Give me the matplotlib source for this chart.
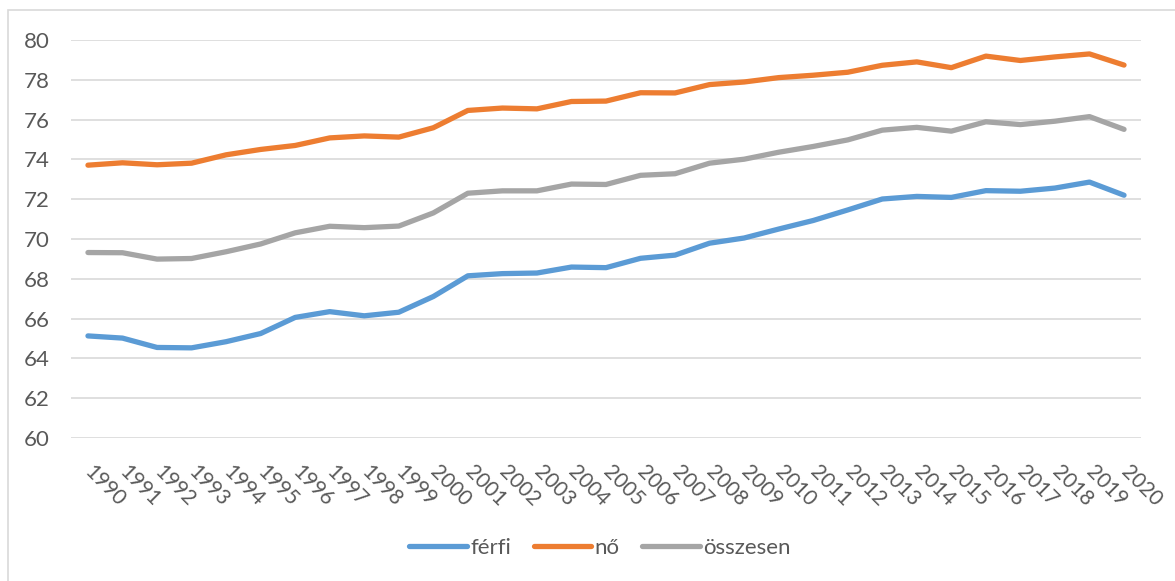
import matplotlib.pyplot as plt
from matplotlib.patches import Rectangle

years = list(range(1990, 2021))
ferfi = [65.13, 65.02, 64.55, 64.53, 64.84, 65.25, 66.06, 66.35, 66.14, 66.32,
         67.11, 68.15, 68.26, 68.29, 68.59, 68.56, 69.03, 69.19, 69.79, 70.05,
         70.50, 70.93, 71.46, 72.01, 72.14, 72.09, 72.43, 72.40, 72.56, 72.86, 72.20]
no = [73.71, 73.83, 73.73, 73.81, 74.23, 74.50, 74.70, 75.08, 75.18, 75.12,
      75.59, 76.46, 76.58, 76.54, 76.91, 76.93, 77.35, 77.34, 77.76, 77.89,
      78.11, 78.23, 78.38, 78.73, 78.90, 78.61, 79.19, 78.97, 79.15, 79.30, 78.74]
osszesen = [69.32, 69.31, 68.99, 69.02, 69.36, 69.75, 70.31, 70.64, 70.57, 70.65,
            71.31, 72.30, 72.42, 72.42, 72.76, 72.74, 73.20, 73.28, 73.81, 74.01,
            74.36, 74.65, 74.98, 75.47, 75.61, 75.42, 75.89, 75.75, 75.92, 76.15, 75.51]
yticks = [60, 62, 64, 66, 68, 70, 72, 74, 76, 78, 80]

plt.rcParams['font.family'] = ['Lato', 'DejaVu Sans']
txt = '#595959'
fs = 16

fig = plt.figure(figsize=(11.75, 5.81), dpi=100)
W, H = 1175, 581
# light chart border (cropped at right/bottom)
fig.patches.append(Rectangle((8 / W, -0.1), 1.2, 1 - 10 / H + 0.1,
                             transform=fig.transFigure, fill=False,
                             edgecolor='#d9d9d9', linewidth=1.2))

ax = fig.add_axes([70.7 / W, 1 - 438 / H, (1141.3 - 70.7) / W, (438 - 40) / H])
x = list(range(len(years)))
ax.plot(x, ferfi, color='#5B9BD5', linewidth=3.8, solid_capstyle='round', label='férfi')
ax.plot(x, no, color='#ED7D31', linewidth=3.8, solid_capstyle='round', label='nő')
ax.plot(x, osszesen, color='#A5A5A5', linewidth=3.8, solid_capstyle='round', label='összesen')

ax.set_xlim(-0.5, len(years) - 0.5)
ax.set_ylim(60, 80)
ax.set_yticks(yticks)
ax.set_yticklabels([str(v) for v in yticks], fontsize=fs, color=txt)
ax.set_xticks(x)
ax.set_xticklabels([str(y) for y in years], fontsize=fs - 1, color=txt,
                   rotation=-45, ha='left', va='center', rotation_mode='anchor')
ax.tick_params(axis='both', length=0)
ax.tick_params(axis='y', pad=15)
ax.tick_params(axis='x', pad=22)
ax.grid(axis='y', color='#d9d9d9', linewidth=1.2)
ax.set_axisbelow(True)
for s in ax.spines.values():
    s.set_visible(False)

leg = fig.legend(loc='center', bbox_to_anchor=(600 / W, 1 - 548 / H), ncol=3,
                 frameon=False, fontsize=fs, handlelength=2.6, columnspacing=1.0,
                 handletextpad=0.15)
for t in leg.get_texts():
    t.set_color(txt)

fig.savefig('out.png', dpi=100)
